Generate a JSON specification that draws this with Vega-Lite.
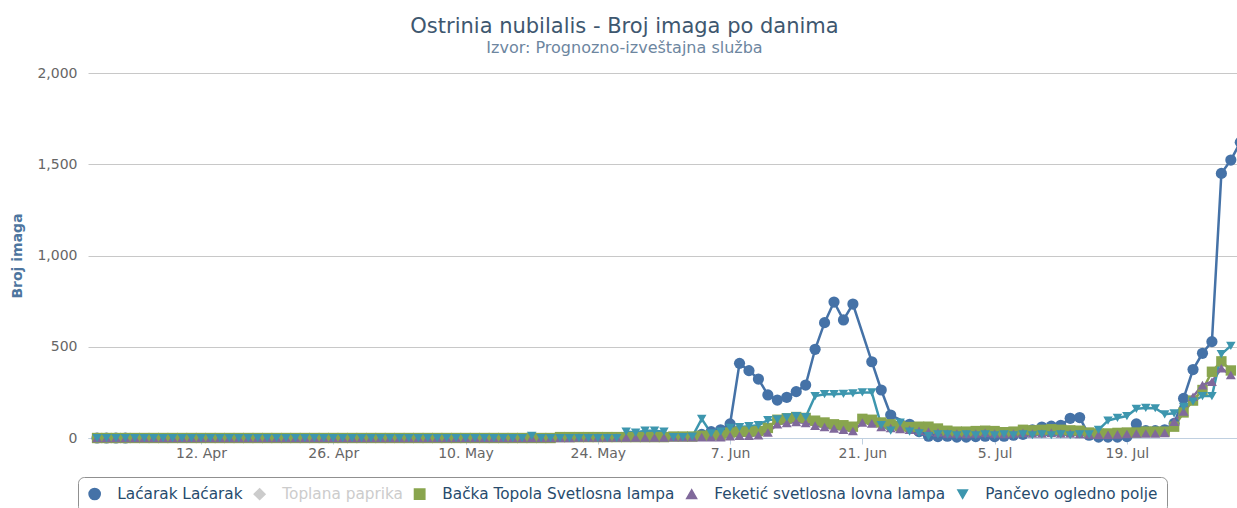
{"$schema":"https://vega.github.io/schema/vega-lite/v6.json","width":1157,"height":365,"autosize":{"type":"none"},"padding":{"left":88,"top":73,"right":0,"bottom":70},"background":"white","config":{"font":"DejaVu Sans","view":{"stroke":null}},
"title":{"text":"Ostrinia nubilalis - Broj imaga po danima","subtitle":"Izvor: Prognozno-izveštajna služba","anchor":"middle","frame":"group","dx":-42,"fontSize":21,"fontWeight":"normal","color":"#3E576F","font":"DejaVu Sans","subtitleFont":"DejaVu Sans","subtitleFontSize":16,"subtitleColor":"#6D869F","subtitlePadding":3,"offset":10},
"data":{"values":[
{"d":"2021-04-01","s":"Laćarak Laćarak","v":0},{"d":"2021-04-02","s":"Laćarak Laćarak","v":0},{"d":"2021-04-03","s":"Laćarak Laćarak","v":0},{"d":"2021-04-04","s":"Laćarak Laćarak","v":0},
{"d":"2021-06-04","s":"Laćarak Laćarak","v":20},{"d":"2021-06-05","s":"Laćarak Laćarak","v":35},{"d":"2021-06-06","s":"Laćarak Laćarak","v":45},{"d":"2021-06-07","s":"Laćarak Laćarak","v":77},{"d":"2021-06-08","s":"Laćarak Laćarak","v":409},{"d":"2021-06-09","s":"Laćarak Laćarak","v":369},{"d":"2021-06-10","s":"Laćarak Laćarak","v":323},{"d":"2021-06-11","s":"Laćarak Laćarak","v":236},{"d":"2021-06-12","s":"Laćarak Laćarak","v":208},{"d":"2021-06-13","s":"Laćarak Laćarak","v":223},{"d":"2021-06-14","s":"Laćarak Laćarak","v":254},{"d":"2021-06-15","s":"Laćarak Laćarak","v":290},{"d":"2021-06-16","s":"Laćarak Laćarak","v":486},{"d":"2021-06-17","s":"Laćarak Laćarak","v":632},{"d":"2021-06-18","s":"Laćarak Laćarak","v":745},{"d":"2021-06-19","s":"Laćarak Laćarak","v":647},{"d":"2021-06-20","s":"Laćarak Laćarak","v":734},{"d":"2021-06-22","s":"Laćarak Laćarak","v":418},{"d":"2021-06-23","s":"Laćarak Laćarak","v":263},{"d":"2021-06-24","s":"Laćarak Laćarak","v":126},{"d":"2021-06-26","s":"Laćarak Laćarak","v":75},{"d":"2021-06-27","s":"Laćarak Laćarak","v":35},{"d":"2021-06-28","s":"Laćarak Laćarak","v":10},{"d":"2021-06-29","s":"Laćarak Laćarak","v":8},{"d":"2021-06-30","s":"Laćarak Laćarak","v":10},
{"d":"2021-07-01","s":"Laćarak Laćarak","v":5},{"d":"2021-07-02","s":"Laćarak Laćarak","v":5},{"d":"2021-07-03","s":"Laćarak Laćarak","v":8},{"d":"2021-07-04","s":"Laćarak Laćarak","v":10},{"d":"2021-07-05","s":"Laćarak Laćarak","v":8},{"d":"2021-07-06","s":"Laćarak Laćarak","v":10},{"d":"2021-07-07","s":"Laćarak Laćarak","v":15},{"d":"2021-07-08","s":"Laćarak Laćarak","v":20},{"d":"2021-07-09","s":"Laćarak Laćarak","v":45},{"d":"2021-07-10","s":"Laćarak Laćarak","v":60},{"d":"2021-07-11","s":"Laćarak Laćarak","v":65},{"d":"2021-07-12","s":"Laćarak Laćarak","v":70},{"d":"2021-07-13","s":"Laćarak Laćarak","v":108},{"d":"2021-07-14","s":"Laćarak Laćarak","v":112},{"d":"2021-07-15","s":"Laćarak Laćarak","v":15},{"d":"2021-07-16","s":"Laćarak Laćarak","v":5},{"d":"2021-07-17","s":"Laćarak Laćarak","v":5},{"d":"2021-07-18","s":"Laćarak Laćarak","v":5},{"d":"2021-07-19","s":"Laćarak Laćarak","v":8},{"d":"2021-07-20","s":"Laćarak Laćarak","v":77},{"d":"2021-07-21","s":"Laćarak Laćarak","v":40},{"d":"2021-07-22","s":"Laćarak Laćarak","v":40},{"d":"2021-07-23","s":"Laćarak Laćarak","v":45},{"d":"2021-07-24","s":"Laćarak Laćarak","v":80},{"d":"2021-07-25","s":"Laćarak Laćarak","v":217},{"d":"2021-07-26","s":"Laćarak Laćarak","v":375},{"d":"2021-07-27","s":"Laćarak Laćarak","v":464},{"d":"2021-07-28","s":"Laćarak Laćarak","v":528},{"d":"2021-07-29","s":"Laćarak Laćarak","v":1450},{"d":"2021-07-30","s":"Laćarak Laćarak","v":1523},{"d":"2021-07-31","s":"Laćarak Laćarak","v":1620},
{"d":"2021-04-01","s":"Bačka Topola Svetlosna lampa","v":0},{"d":"2021-04-02","s":"Bačka Topola Svetlosna lampa","v":0},{"d":"2021-04-03","s":"Bačka Topola Svetlosna lampa","v":0},{"d":"2021-04-04","s":"Bačka Topola Svetlosna lampa","v":0},{"d":"2021-04-05","s":"Bačka Topola Svetlosna lampa","v":0},{"d":"2021-04-06","s":"Bačka Topola Svetlosna lampa","v":0},{"d":"2021-04-07","s":"Bačka Topola Svetlosna lampa","v":0},{"d":"2021-04-08","s":"Bačka Topola Svetlosna lampa","v":0},{"d":"2021-04-09","s":"Bačka Topola Svetlosna lampa","v":0},{"d":"2021-04-10","s":"Bačka Topola Svetlosna lampa","v":0},{"d":"2021-04-11","s":"Bačka Topola Svetlosna lampa","v":0},{"d":"2021-04-12","s":"Bačka Topola Svetlosna lampa","v":0},{"d":"2021-04-13","s":"Bačka Topola Svetlosna lampa","v":0},{"d":"2021-04-14","s":"Bačka Topola Svetlosna lampa","v":0},{"d":"2021-04-15","s":"Bačka Topola Svetlosna lampa","v":0},{"d":"2021-04-16","s":"Bačka Topola Svetlosna lampa","v":0},{"d":"2021-04-17","s":"Bačka Topola Svetlosna lampa","v":0},{"d":"2021-04-18","s":"Bačka Topola Svetlosna lampa","v":0},{"d":"2021-04-19","s":"Bačka Topola Svetlosna lampa","v":0},{"d":"2021-04-20","s":"Bačka Topola Svetlosna lampa","v":0},{"d":"2021-04-21","s":"Bačka Topola Svetlosna lampa","v":0},{"d":"2021-04-22","s":"Bačka Topola Svetlosna lampa","v":0},{"d":"2021-04-23","s":"Bačka Topola Svetlosna lampa","v":0},{"d":"2021-04-24","s":"Bačka Topola Svetlosna lampa","v":0},{"d":"2021-04-25","s":"Bačka Topola Svetlosna lampa","v":0},{"d":"2021-04-26","s":"Bačka Topola Svetlosna lampa","v":0},{"d":"2021-04-27","s":"Bačka Topola Svetlosna lampa","v":0},{"d":"2021-04-28","s":"Bačka Topola Svetlosna lampa","v":0},{"d":"2021-04-29","s":"Bačka Topola Svetlosna lampa","v":0},{"d":"2021-04-30","s":"Bačka Topola Svetlosna lampa","v":0},
{"d":"2021-05-01","s":"Bačka Topola Svetlosna lampa","v":0},{"d":"2021-05-02","s":"Bačka Topola Svetlosna lampa","v":0},{"d":"2021-05-03","s":"Bačka Topola Svetlosna lampa","v":0},{"d":"2021-05-04","s":"Bačka Topola Svetlosna lampa","v":0},{"d":"2021-05-05","s":"Bačka Topola Svetlosna lampa","v":0},{"d":"2021-05-06","s":"Bačka Topola Svetlosna lampa","v":0},{"d":"2021-05-07","s":"Bačka Topola Svetlosna lampa","v":0},{"d":"2021-05-08","s":"Bačka Topola Svetlosna lampa","v":0},{"d":"2021-05-09","s":"Bačka Topola Svetlosna lampa","v":0},{"d":"2021-05-10","s":"Bačka Topola Svetlosna lampa","v":0},{"d":"2021-05-11","s":"Bačka Topola Svetlosna lampa","v":0},{"d":"2021-05-12","s":"Bačka Topola Svetlosna lampa","v":0},{"d":"2021-05-13","s":"Bačka Topola Svetlosna lampa","v":0},{"d":"2021-05-14","s":"Bačka Topola Svetlosna lampa","v":0},{"d":"2021-05-15","s":"Bačka Topola Svetlosna lampa","v":0},{"d":"2021-05-16","s":"Bačka Topola Svetlosna lampa","v":0},{"d":"2021-05-17","s":"Bačka Topola Svetlosna lampa","v":0},{"d":"2021-05-18","s":"Bačka Topola Svetlosna lampa","v":0},{"d":"2021-05-19","s":"Bačka Topola Svetlosna lampa","v":0},{"d":"2021-05-20","s":"Bačka Topola Svetlosna lampa","v":5},{"d":"2021-05-21","s":"Bačka Topola Svetlosna lampa","v":5},{"d":"2021-05-22","s":"Bačka Topola Svetlosna lampa","v":5},{"d":"2021-05-23","s":"Bačka Topola Svetlosna lampa","v":5},{"d":"2021-05-24","s":"Bačka Topola Svetlosna lampa","v":5},{"d":"2021-05-25","s":"Bačka Topola Svetlosna lampa","v":5},{"d":"2021-05-26","s":"Bačka Topola Svetlosna lampa","v":5},{"d":"2021-05-27","s":"Bačka Topola Svetlosna lampa","v":5},{"d":"2021-05-28","s":"Bačka Topola Svetlosna lampa","v":5},{"d":"2021-05-29","s":"Bačka Topola Svetlosna lampa","v":5},{"d":"2021-05-30","s":"Bačka Topola Svetlosna lampa","v":5},{"d":"2021-05-31","s":"Bačka Topola Svetlosna lampa","v":5},
{"d":"2021-06-01","s":"Bačka Topola Svetlosna lampa","v":8},{"d":"2021-06-02","s":"Bačka Topola Svetlosna lampa","v":8},{"d":"2021-06-03","s":"Bačka Topola Svetlosna lampa","v":8},{"d":"2021-06-04","s":"Bačka Topola Svetlosna lampa","v":12},{"d":"2021-06-05","s":"Bačka Topola Svetlosna lampa","v":15},{"d":"2021-06-06","s":"Bačka Topola Svetlosna lampa","v":15},{"d":"2021-06-07","s":"Bačka Topola Svetlosna lampa","v":30},{"d":"2021-06-08","s":"Bačka Topola Svetlosna lampa","v":35},{"d":"2021-06-09","s":"Bačka Topola Svetlosna lampa","v":35},{"d":"2021-06-10","s":"Bačka Topola Svetlosna lampa","v":38},{"d":"2021-06-11","s":"Bačka Topola Svetlosna lampa","v":55},{"d":"2021-06-12","s":"Bačka Topola Svetlosna lampa","v":100},{"d":"2021-06-13","s":"Bačka Topola Svetlosna lampa","v":108},{"d":"2021-06-14","s":"Bačka Topola Svetlosna lampa","v":115},{"d":"2021-06-15","s":"Bačka Topola Svetlosna lampa","v":110},{"d":"2021-06-16","s":"Bačka Topola Svetlosna lampa","v":95},{"d":"2021-06-17","s":"Bačka Topola Svetlosna lampa","v":85},{"d":"2021-06-18","s":"Bačka Topola Svetlosna lampa","v":75},{"d":"2021-06-19","s":"Bačka Topola Svetlosna lampa","v":70},{"d":"2021-06-20","s":"Bačka Topola Svetlosna lampa","v":62},{"d":"2021-06-21","s":"Bačka Topola Svetlosna lampa","v":105},{"d":"2021-06-22","s":"Bačka Topola Svetlosna lampa","v":100},{"d":"2021-06-23","s":"Bačka Topola Svetlosna lampa","v":85},{"d":"2021-06-24","s":"Bačka Topola Svetlosna lampa","v":75},{"d":"2021-06-25","s":"Bačka Topola Svetlosna lampa","v":65},{"d":"2021-06-26","s":"Bačka Topola Svetlosna lampa","v":60},{"d":"2021-06-27","s":"Bačka Topola Svetlosna lampa","v":62},{"d":"2021-06-28","s":"Bačka Topola Svetlosna lampa","v":62},{"d":"2021-06-29","s":"Bačka Topola Svetlosna lampa","v":52},{"d":"2021-06-30","s":"Bačka Topola Svetlosna lampa","v":40},
{"d":"2021-07-01","s":"Bačka Topola Svetlosna lampa","v":35},{"d":"2021-07-02","s":"Bačka Topola Svetlosna lampa","v":35},{"d":"2021-07-03","s":"Bačka Topola Svetlosna lampa","v":38},{"d":"2021-07-04","s":"Bačka Topola Svetlosna lampa","v":40},{"d":"2021-07-05","s":"Bačka Topola Svetlosna lampa","v":38},{"d":"2021-07-06","s":"Bačka Topola Svetlosna lampa","v":32},{"d":"2021-07-07","s":"Bačka Topola Svetlosna lampa","v":35},{"d":"2021-07-08","s":"Bačka Topola Svetlosna lampa","v":45},{"d":"2021-07-09","s":"Bačka Topola Svetlosna lampa","v":42},{"d":"2021-07-10","s":"Bačka Topola Svetlosna lampa","v":45},{"d":"2021-07-11","s":"Bačka Topola Svetlosna lampa","v":48},{"d":"2021-07-12","s":"Bačka Topola Svetlosna lampa","v":45},{"d":"2021-07-13","s":"Bačka Topola Svetlosna lampa","v":42},{"d":"2021-07-14","s":"Bačka Topola Svetlosna lampa","v":40},{"d":"2021-07-15","s":"Bačka Topola Svetlosna lampa","v":30},{"d":"2021-07-16","s":"Bačka Topola Svetlosna lampa","v":25},{"d":"2021-07-17","s":"Bačka Topola Svetlosna lampa","v":25},{"d":"2021-07-18","s":"Bačka Topola Svetlosna lampa","v":28},{"d":"2021-07-19","s":"Bačka Topola Svetlosna lampa","v":30},{"d":"2021-07-20","s":"Bačka Topola Svetlosna lampa","v":30},{"d":"2021-07-21","s":"Bačka Topola Svetlosna lampa","v":35},{"d":"2021-07-22","s":"Bačka Topola Svetlosna lampa","v":35},{"d":"2021-07-23","s":"Bačka Topola Svetlosna lampa","v":35},{"d":"2021-07-24","s":"Bačka Topola Svetlosna lampa","v":62},{"d":"2021-07-25","s":"Bačka Topola Svetlosna lampa","v":140},{"d":"2021-07-26","s":"Bačka Topola Svetlosna lampa","v":205},{"d":"2021-07-27","s":"Bačka Topola Svetlosna lampa","v":263},{"d":"2021-07-28","s":"Bačka Topola Svetlosna lampa","v":363},{"d":"2021-07-29","s":"Bačka Topola Svetlosna lampa","v":420},{"d":"2021-07-30","s":"Bačka Topola Svetlosna lampa","v":370},
{"d":"2021-04-01","s":"Feketić svetlosna lovna lampa","v":0},{"d":"2021-04-02","s":"Feketić svetlosna lovna lampa","v":0},{"d":"2021-04-03","s":"Feketić svetlosna lovna lampa","v":0},{"d":"2021-04-04","s":"Feketić svetlosna lovna lampa","v":0},{"d":"2021-04-05","s":"Feketić svetlosna lovna lampa","v":0},{"d":"2021-04-06","s":"Feketić svetlosna lovna lampa","v":0},{"d":"2021-04-07","s":"Feketić svetlosna lovna lampa","v":0},{"d":"2021-04-08","s":"Feketić svetlosna lovna lampa","v":0},{"d":"2021-04-09","s":"Feketić svetlosna lovna lampa","v":0},{"d":"2021-04-10","s":"Feketić svetlosna lovna lampa","v":0},{"d":"2021-04-11","s":"Feketić svetlosna lovna lampa","v":0},{"d":"2021-04-12","s":"Feketić svetlosna lovna lampa","v":0},{"d":"2021-04-13","s":"Feketić svetlosna lovna lampa","v":0},{"d":"2021-04-14","s":"Feketić svetlosna lovna lampa","v":0},{"d":"2021-04-15","s":"Feketić svetlosna lovna lampa","v":0},{"d":"2021-04-16","s":"Feketić svetlosna lovna lampa","v":0},{"d":"2021-04-17","s":"Feketić svetlosna lovna lampa","v":0},{"d":"2021-04-18","s":"Feketić svetlosna lovna lampa","v":0},{"d":"2021-04-19","s":"Feketić svetlosna lovna lampa","v":0},{"d":"2021-04-20","s":"Feketić svetlosna lovna lampa","v":0},{"d":"2021-04-21","s":"Feketić svetlosna lovna lampa","v":0},{"d":"2021-04-22","s":"Feketić svetlosna lovna lampa","v":0},{"d":"2021-04-23","s":"Feketić svetlosna lovna lampa","v":0},{"d":"2021-04-24","s":"Feketić svetlosna lovna lampa","v":0},{"d":"2021-04-25","s":"Feketić svetlosna lovna lampa","v":0},{"d":"2021-04-26","s":"Feketić svetlosna lovna lampa","v":0},{"d":"2021-04-27","s":"Feketić svetlosna lovna lampa","v":0},{"d":"2021-04-28","s":"Feketić svetlosna lovna lampa","v":0},{"d":"2021-04-29","s":"Feketić svetlosna lovna lampa","v":0},{"d":"2021-04-30","s":"Feketić svetlosna lovna lampa","v":0},
{"d":"2021-05-01","s":"Feketić svetlosna lovna lampa","v":0},{"d":"2021-05-02","s":"Feketić svetlosna lovna lampa","v":0},{"d":"2021-05-03","s":"Feketić svetlosna lovna lampa","v":0},{"d":"2021-05-04","s":"Feketić svetlosna lovna lampa","v":0},{"d":"2021-05-05","s":"Feketić svetlosna lovna lampa","v":0},{"d":"2021-05-06","s":"Feketić svetlosna lovna lampa","v":0},{"d":"2021-05-07","s":"Feketić svetlosna lovna lampa","v":0},{"d":"2021-05-08","s":"Feketić svetlosna lovna lampa","v":0},{"d":"2021-05-09","s":"Feketić svetlosna lovna lampa","v":0},{"d":"2021-05-10","s":"Feketić svetlosna lovna lampa","v":0},{"d":"2021-05-11","s":"Feketić svetlosna lovna lampa","v":0},{"d":"2021-05-12","s":"Feketić svetlosna lovna lampa","v":0},{"d":"2021-05-13","s":"Feketić svetlosna lovna lampa","v":0},{"d":"2021-05-14","s":"Feketić svetlosna lovna lampa","v":0},{"d":"2021-05-15","s":"Feketić svetlosna lovna lampa","v":0},{"d":"2021-05-16","s":"Feketić svetlosna lovna lampa","v":0},{"d":"2021-05-17","s":"Feketić svetlosna lovna lampa","v":0},{"d":"2021-05-18","s":"Feketić svetlosna lovna lampa","v":0},{"d":"2021-05-19","s":"Feketić svetlosna lovna lampa","v":0},{"d":"2021-05-20","s":"Feketić svetlosna lovna lampa","v":0},{"d":"2021-05-21","s":"Feketić svetlosna lovna lampa","v":0},{"d":"2021-05-22","s":"Feketić svetlosna lovna lampa","v":3},{"d":"2021-05-23","s":"Feketić svetlosna lovna lampa","v":3},{"d":"2021-05-24","s":"Feketić svetlosna lovna lampa","v":3},{"d":"2021-05-25","s":"Feketić svetlosna lovna lampa","v":3},{"d":"2021-05-26","s":"Feketić svetlosna lovna lampa","v":3},{"d":"2021-05-27","s":"Feketić svetlosna lovna lampa","v":3},{"d":"2021-05-28","s":"Feketić svetlosna lovna lampa","v":3},{"d":"2021-05-29","s":"Feketić svetlosna lovna lampa","v":3},{"d":"2021-05-30","s":"Feketić svetlosna lovna lampa","v":3},{"d":"2021-05-31","s":"Feketić svetlosna lovna lampa","v":3},
{"d":"2021-06-01","s":"Feketić svetlosna lovna lampa","v":5},{"d":"2021-06-02","s":"Feketić svetlosna lovna lampa","v":5},{"d":"2021-06-03","s":"Feketić svetlosna lovna lampa","v":5},{"d":"2021-06-04","s":"Feketić svetlosna lovna lampa","v":5},{"d":"2021-06-05","s":"Feketić svetlosna lovna lampa","v":5},{"d":"2021-06-06","s":"Feketić svetlosna lovna lampa","v":5},{"d":"2021-06-07","s":"Feketić svetlosna lovna lampa","v":10},{"d":"2021-06-08","s":"Feketić svetlosna lovna lampa","v":12},{"d":"2021-06-09","s":"Feketić svetlosna lovna lampa","v":12},{"d":"2021-06-10","s":"Feketić svetlosna lovna lampa","v":15},{"d":"2021-06-11","s":"Feketić svetlosna lovna lampa","v":30},{"d":"2021-06-12","s":"Feketić svetlosna lovna lampa","v":75},{"d":"2021-06-13","s":"Feketić svetlosna lovna lampa","v":82},{"d":"2021-06-14","s":"Feketić svetlosna lovna lampa","v":88},{"d":"2021-06-15","s":"Feketić svetlosna lovna lampa","v":82},{"d":"2021-06-16","s":"Feketić svetlosna lovna lampa","v":68},{"d":"2021-06-17","s":"Feketić svetlosna lovna lampa","v":60},{"d":"2021-06-18","s":"Feketić svetlosna lovna lampa","v":52},{"d":"2021-06-19","s":"Feketić svetlosna lovna lampa","v":45},{"d":"2021-06-20","s":"Feketić svetlosna lovna lampa","v":38},{"d":"2021-06-21","s":"Feketić svetlosna lovna lampa","v":85},{"d":"2021-06-22","s":"Feketić svetlosna lovna lampa","v":80},{"d":"2021-06-23","s":"Feketić svetlosna lovna lampa","v":60},{"d":"2021-06-24","s":"Feketić svetlosna lovna lampa","v":55},{"d":"2021-06-25","s":"Feketić svetlosna lovna lampa","v":50},{"d":"2021-06-26","s":"Feketić svetlosna lovna lampa","v":45},{"d":"2021-06-27","s":"Feketić svetlosna lovna lampa","v":40},{"d":"2021-06-28","s":"Feketić svetlosna lovna lampa","v":35},{"d":"2021-06-29","s":"Feketić svetlosna lovna lampa","v":30},{"d":"2021-06-30","s":"Feketić svetlosna lovna lampa","v":25},
{"d":"2021-07-01","s":"Feketić svetlosna lovna lampa","v":25},{"d":"2021-07-02","s":"Feketić svetlosna lovna lampa","v":22},{"d":"2021-07-03","s":"Feketić svetlosna lovna lampa","v":25},{"d":"2021-07-04","s":"Feketić svetlosna lovna lampa","v":28},{"d":"2021-07-05","s":"Feketić svetlosna lovna lampa","v":25},{"d":"2021-07-06","s":"Feketić svetlosna lovna lampa","v":22},{"d":"2021-07-07","s":"Feketić svetlosna lovna lampa","v":25},{"d":"2021-07-08","s":"Feketić svetlosna lovna lampa","v":28},{"d":"2021-07-09","s":"Feketić svetlosna lovna lampa","v":25},{"d":"2021-07-10","s":"Feketić svetlosna lovna lampa","v":25},{"d":"2021-07-11","s":"Feketić svetlosna lovna lampa","v":28},{"d":"2021-07-12","s":"Feketić svetlosna lovna lampa","v":25},{"d":"2021-07-13","s":"Feketić svetlosna lovna lampa","v":25},{"d":"2021-07-14","s":"Feketić svetlosna lovna lampa","v":22},{"d":"2021-07-15","s":"Feketić svetlosna lovna lampa","v":20},{"d":"2021-07-16","s":"Feketić svetlosna lovna lampa","v":18},{"d":"2021-07-17","s":"Feketić svetlosna lovna lampa","v":18},{"d":"2021-07-18","s":"Feketić svetlosna lovna lampa","v":20},{"d":"2021-07-19","s":"Feketić svetlosna lovna lampa","v":22},{"d":"2021-07-20","s":"Feketić svetlosna lovna lampa","v":25},{"d":"2021-07-21","s":"Feketić svetlosna lovna lampa","v":25},{"d":"2021-07-22","s":"Feketić svetlosna lovna lampa","v":25},{"d":"2021-07-23","s":"Feketić svetlosna lovna lampa","v":28},{"d":"2021-07-24","s":"Feketić svetlosna lovna lampa","v":90},{"d":"2021-07-25","s":"Feketić svetlosna lovna lampa","v":145},{"d":"2021-07-26","s":"Feketić svetlosna lovna lampa","v":226},{"d":"2021-07-27","s":"Feketić svetlosna lovna lampa","v":290},{"d":"2021-07-28","s":"Feketić svetlosna lovna lampa","v":308},{"d":"2021-07-29","s":"Feketić svetlosna lovna lampa","v":382},{"d":"2021-07-30","s":"Feketić svetlosna lovna lampa","v":345},
{"d":"2021-04-01","s":"Pančevo ogledno polje","v":0},{"d":"2021-04-02","s":"Pančevo ogledno polje","v":0},{"d":"2021-04-03","s":"Pančevo ogledno polje","v":0},{"d":"2021-04-04","s":"Pančevo ogledno polje","v":0},{"d":"2021-04-05","s":"Pančevo ogledno polje","v":0},{"d":"2021-04-06","s":"Pančevo ogledno polje","v":0},{"d":"2021-04-07","s":"Pančevo ogledno polje","v":0},{"d":"2021-04-08","s":"Pančevo ogledno polje","v":0},{"d":"2021-04-09","s":"Pančevo ogledno polje","v":0},{"d":"2021-04-10","s":"Pančevo ogledno polje","v":0},{"d":"2021-04-11","s":"Pančevo ogledno polje","v":0},{"d":"2021-04-12","s":"Pančevo ogledno polje","v":0},{"d":"2021-04-13","s":"Pančevo ogledno polje","v":0},{"d":"2021-04-14","s":"Pančevo ogledno polje","v":0},{"d":"2021-04-15","s":"Pančevo ogledno polje","v":0},{"d":"2021-04-16","s":"Pančevo ogledno polje","v":0},{"d":"2021-04-17","s":"Pančevo ogledno polje","v":0},{"d":"2021-04-18","s":"Pančevo ogledno polje","v":0},{"d":"2021-04-19","s":"Pančevo ogledno polje","v":0},{"d":"2021-04-20","s":"Pančevo ogledno polje","v":0},{"d":"2021-04-21","s":"Pančevo ogledno polje","v":0},{"d":"2021-04-22","s":"Pančevo ogledno polje","v":0},{"d":"2021-04-23","s":"Pančevo ogledno polje","v":0},{"d":"2021-04-24","s":"Pančevo ogledno polje","v":0},{"d":"2021-04-25","s":"Pančevo ogledno polje","v":0},{"d":"2021-04-26","s":"Pančevo ogledno polje","v":0},{"d":"2021-04-27","s":"Pančevo ogledno polje","v":0},{"d":"2021-04-28","s":"Pančevo ogledno polje","v":0},{"d":"2021-04-29","s":"Pančevo ogledno polje","v":0},{"d":"2021-04-30","s":"Pančevo ogledno polje","v":0},
{"d":"2021-05-01","s":"Pančevo ogledno polje","v":0},{"d":"2021-05-02","s":"Pančevo ogledno polje","v":0},{"d":"2021-05-03","s":"Pančevo ogledno polje","v":0},{"d":"2021-05-04","s":"Pančevo ogledno polje","v":0},{"d":"2021-05-05","s":"Pančevo ogledno polje","v":0},{"d":"2021-05-06","s":"Pančevo ogledno polje","v":0},{"d":"2021-05-07","s":"Pančevo ogledno polje","v":0},{"d":"2021-05-08","s":"Pančevo ogledno polje","v":0},{"d":"2021-05-09","s":"Pančevo ogledno polje","v":0},{"d":"2021-05-10","s":"Pančevo ogledno polje","v":0},{"d":"2021-05-11","s":"Pančevo ogledno polje","v":0},{"d":"2021-05-12","s":"Pančevo ogledno polje","v":0},{"d":"2021-05-13","s":"Pančevo ogledno polje","v":0},{"d":"2021-05-14","s":"Pančevo ogledno polje","v":0},{"d":"2021-05-15","s":"Pančevo ogledno polje","v":0},{"d":"2021-05-16","s":"Pančevo ogledno polje","v":0},{"d":"2021-05-17","s":"Pančevo ogledno polje","v":12},{"d":"2021-05-18","s":"Pančevo ogledno polje","v":0},{"d":"2021-05-19","s":"Pančevo ogledno polje","v":0},{"d":"2021-05-20","s":"Pančevo ogledno polje","v":0},{"d":"2021-05-21","s":"Pančevo ogledno polje","v":0},{"d":"2021-05-22","s":"Pančevo ogledno polje","v":0},{"d":"2021-05-23","s":"Pančevo ogledno polje","v":0},{"d":"2021-05-24","s":"Pančevo ogledno polje","v":0},{"d":"2021-05-25","s":"Pančevo ogledno polje","v":0},{"d":"2021-05-26","s":"Pančevo ogledno polje","v":0},{"d":"2021-05-27","s":"Pančevo ogledno polje","v":35},{"d":"2021-05-28","s":"Pančevo ogledno polje","v":30},{"d":"2021-05-29","s":"Pančevo ogledno polje","v":40},{"d":"2021-05-30","s":"Pančevo ogledno polje","v":40},{"d":"2021-05-31","s":"Pančevo ogledno polje","v":35},
{"d":"2021-06-01","s":"Pančevo ogledno polje","v":5},{"d":"2021-06-02","s":"Pančevo ogledno polje","v":5},{"d":"2021-06-03","s":"Pančevo ogledno polje","v":8},{"d":"2021-06-04","s":"Pančevo ogledno polje","v":105},{"d":"2021-06-05","s":"Pančevo ogledno polje","v":25},{"d":"2021-06-06","s":"Pančevo ogledno polje","v":35},{"d":"2021-06-07","s":"Pančevo ogledno polje","v":55},{"d":"2021-06-08","s":"Pančevo ogledno polje","v":60},{"d":"2021-06-09","s":"Pančevo ogledno polje","v":65},{"d":"2021-06-10","s":"Pančevo ogledno polje","v":70},{"d":"2021-06-11","s":"Pančevo ogledno polje","v":98},{"d":"2021-06-12","s":"Pančevo ogledno polje","v":102},{"d":"2021-06-13","s":"Pančevo ogledno polje","v":113},{"d":"2021-06-14","s":"Pančevo ogledno polje","v":120},{"d":"2021-06-15","s":"Pančevo ogledno polje","v":115},{"d":"2021-06-16","s":"Pančevo ogledno polje","v":230},{"d":"2021-06-17","s":"Pančevo ogledno polje","v":240},{"d":"2021-06-18","s":"Pančevo ogledno polje","v":240},{"d":"2021-06-19","s":"Pančevo ogledno polje","v":242},{"d":"2021-06-20","s":"Pančevo ogledno polje","v":245},{"d":"2021-06-21","s":"Pančevo ogledno polje","v":250},{"d":"2021-06-22","s":"Pančevo ogledno polje","v":250},{"d":"2021-06-23","s":"Pančevo ogledno polje","v":70},{"d":"2021-06-24","s":"Pančevo ogledno polje","v":40},{"d":"2021-06-25","s":"Pančevo ogledno polje","v":85},{"d":"2021-06-26","s":"Pančevo ogledno polje","v":35},{"d":"2021-06-27","s":"Pančevo ogledno polje","v":25},{"d":"2021-06-28","s":"Pančevo ogledno polje","v":10},{"d":"2021-06-29","s":"Pančevo ogledno polje","v":20},{"d":"2021-06-30","s":"Pančevo ogledno polje","v":20},
{"d":"2021-07-01","s":"Pančevo ogledno polje","v":15},{"d":"2021-07-02","s":"Pančevo ogledno polje","v":20},{"d":"2021-07-03","s":"Pančevo ogledno polje","v":15},{"d":"2021-07-04","s":"Pančevo ogledno polje","v":20},{"d":"2021-07-05","s":"Pančevo ogledno polje","v":15},{"d":"2021-07-06","s":"Pančevo ogledno polje","v":20},{"d":"2021-07-07","s":"Pančevo ogledno polje","v":15},{"d":"2021-07-08","s":"Pančevo ogledno polje","v":20},{"d":"2021-07-09","s":"Pančevo ogledno polje","v":15},{"d":"2021-07-10","s":"Pančevo ogledno polje","v":20},{"d":"2021-07-11","s":"Pančevo ogledno polje","v":15},{"d":"2021-07-12","s":"Pančevo ogledno polje","v":20},{"d":"2021-07-13","s":"Pančevo ogledno polje","v":15},{"d":"2021-07-14","s":"Pančevo ogledno polje","v":20},{"d":"2021-07-15","s":"Pančevo ogledno polje","v":20},{"d":"2021-07-16","s":"Pančevo ogledno polje","v":45},{"d":"2021-07-17","s":"Pančevo ogledno polje","v":95},{"d":"2021-07-18","s":"Pančevo ogledno polje","v":110},{"d":"2021-07-19","s":"Pančevo ogledno polje","v":120},{"d":"2021-07-20","s":"Pančevo ogledno polje","v":160},{"d":"2021-07-21","s":"Pančevo ogledno polje","v":165},{"d":"2021-07-22","s":"Pančevo ogledno polje","v":163},{"d":"2021-07-23","s":"Pančevo ogledno polje","v":130},{"d":"2021-07-24","s":"Pančevo ogledno polje","v":135},{"d":"2021-07-25","s":"Pančevo ogledno polje","v":170},{"d":"2021-07-26","s":"Pančevo ogledno polje","v":200},{"d":"2021-07-27","s":"Pančevo ogledno polje","v":230},{"d":"2021-07-28","s":"Pančevo ogledno polje","v":230},{"d":"2021-07-29","s":"Pančevo ogledno polje","v":460},{"d":"2021-07-30","s":"Pančevo ogledno polje","v":505}
]},
"encoding":{
"x":{"field":"d","type":"temporal","scale":{"type":"utc","domain":[{"year":2021,"month":"mar","date":31,"hours":1,"utc":true},{"year":2021,"month":"jul","date":31,"hours":12,"utc":true}]},"axis":{"title":null,"values":[{"year":2021,"month":"apr","date":12,"utc":true},{"year":2021,"month":"apr","date":26,"utc":true},{"year":2021,"month":"may","date":10,"utc":true},{"year":2021,"month":"may","date":24,"utc":true},{"year":2021,"month":"jun","date":7,"utc":true},{"year":2021,"month":"jun","date":21,"utc":true},{"year":2021,"month":"jul","date":5,"utc":true},{"year":2021,"month":"jul","date":19,"utc":true}],"format":"%-d. %b","grid":false,"domainColor":"#C0D0E0","tickColor":"#C0D0E0","tickSize":6,"labelFontSize":14,"labelColor":"#666666","labelFont":"DejaVu Sans","labelPadding":2,"labelFlush":false,"labelOverlap":false}},
"y":{"field":"v","type":"quantitative","scale":{"domain":[0,2000]},"axis":{"title":"Broj imaga","values":[0,500,1000,1500,2000],"format":",.0f","domain":false,"ticks":false,"gridColor":"#C8C8C8","labelFontSize":14,"labelColor":"#666666","labelFont":"DejaVu Sans","labelPadding":11,"titleFontSize":14,"titleFont":"DejaVu Sans","titleColor":"#4d759e","titleFontWeight":"bold","titlePadding":12}},
"color":{"field":"s","type":"nominal","scale":{"domain":["Laćarak Laćarak","Toplana paprika","Bačka Topola Svetlosna lampa","Feketić svetlosna lovna lampa","Pančevo ogledno polje"],"range":["#4572A7","#CCCCCC","#89A54E","#80699B","#3D96AE"]},"legend":{"title":null,"orient":"none","legendX":-10,"legendY":404,"direction":"horizontal","columns":5,"padding":9,"strokeColor":"#909090","cornerRadius":6,"fillColor":"white","labelFontSize":15.3,"labelFont":"DejaVu Sans","labelColor":"#274b6d","labelLimit":400,"symbolSize":100,"labelOffset":15,"columnPadding":8,"encode":{"labels":{"update":{"fill":{"signal":"datum.value === 'Toplana paprika' ? '#cccccc' : '#274b6d'"}}}}}}
},
"layer":[
{"mark":{"type":"line","strokeWidth":2.5,"interpolate":"linear"}},
{"mark":{"type":"point","filled":true,"opacity":1},"encoding":{"shape":{"field":"s","type":"nominal","scale":{"domain":["Laćarak Laćarak","Toplana paprika","Bačka Topola Svetlosna lampa","Feketić svetlosna lovna lampa","Pančevo ogledno polje"],"range":["circle","diamond","square","triangle-up","triangle-down"]},"legend":null},"size":{"field":"s","type":"nominal","scale":{"domain":["Laćarak Laćarak","Toplana paprika","Bačka Topola Svetlosna lampa","Feketić svetlosna lovna lampa","Pančevo ogledno polje"],"range":[125,90,80,90,90]},"legend":null}}}
]}
